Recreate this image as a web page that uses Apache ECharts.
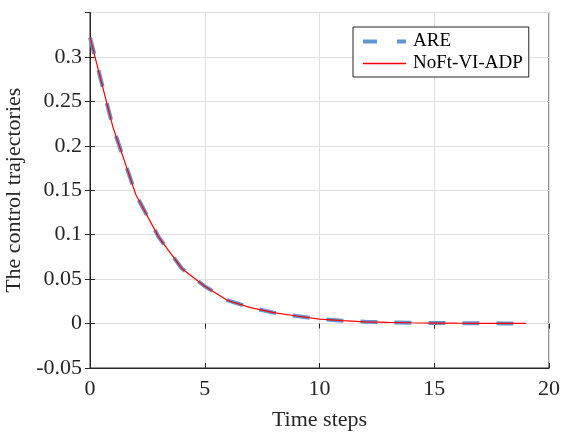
<!DOCTYPE html>
<html>
<head>
<meta charset="utf-8">
<script src="https://cdn.jsdelivr.net/npm/echarts@6/dist/echarts.min.js"></script>
<style>
  html, body { margin: 0; padding: 0; background: #fff; }
  #chart { width: 561px; height: 434px; }
</style>
</head>
<body>
<div id="chart"></div>
<script>
  // Valeurs
  const steps = [0, 1, 2, 3, 4, 5, 6, 7, 8, 9, 10, 11, 12, 13, 14, 15, 16, 17, 18, 19];
  const areValues = [0.322, 0.221, 0.145, 0.097, 0.062, 0.042, 0.026, 0.018, 0.0123, 0.0085,
    0.005, 0.0033, 0.002, 0.0013, 0.0009, 0.0006, 0.0004, 0.0003, 0.0002, 0.0001];
  const adpValues = [0.322, 0.221, 0.145, 0.097, 0.062, 0.042, 0.026, 0.018, 0.0123, 0.0085,
    0.005, 0.0033, 0.002, 0.0013, 0.0009, 0.0006, 0.0004, 0.0003, 0.0002, 0.0001];
  const seriesNames = ['ARE', 'NoFt-VI-ADP'];

  const font = 'Liberation Serif, Times New Roman, serif';
  const ink = '#262626';

  const chart = echarts.init(document.getElementById('chart'));

  const tickOnly = {
    axisLine: { show: false },
    axisTick: { show: true, inside: true, length: 5, lineStyle: { color: ink } },
    axisLabel: { show: false },
    splitLine: { show: false }
  };

  const option = {
    animation: false,
    grid: {
      left: 90, right: 12, top: 12.5, bottom: 66,
      outerBoundsMode: 'none', containLabel: false,
      show: true, borderColor: ink, borderWidth: 1, backgroundColor: 'transparent'
    },
    legend: {
      orient: 'vertical',
      left: 353, top: 27,
      padding: [5, 6, 4, 8],
      itemGap: 3,
      itemWidth: 43,
      itemHeight: 16,
      itemStyle: { opacity: 0 },
      data: [
        { name: seriesNames[0], lineStyle: { color: '#6296d0', width: 4, type: [14, 20] } },
        { name: seriesNames[1], lineStyle: { color: '#ff0000', width: 1.5, type: 'solid' } }
      ],
      backgroundColor: '#fff',
      borderColor: ink,
      borderWidth: 1,
      borderRadius: 0,
      textStyle: { fontFamily: font, fontSize: 19, color: '#000', padding: [0, 0, 0, 2] }
    },
    xAxis: [{
      type: 'value', min: 0, max: 20, interval: 5,
      name: 'Time steps', nameLocation: 'middle', nameGap: 41,
      nameTextStyle: { fontFamily: font, fontSize: 22, color: ink },
      axisLine: { show: true, onZero: false, lineStyle: { color: ink } },
      axisTick: { inside: true, length: 5, lineStyle: { color: ink } },
      axisLabel: { fontFamily: font, fontSize: 22, color: ink, margin: 10 },
      splitLine: { show: true, lineStyle: { color: '#e0e0e0', width: 1 } }
    }, Object.assign({ type: 'value', position: 'top', min: 0, max: 20, interval: 5 }, tickOnly)],
    yAxis: [{
      type: 'value', min: -0.05, max: 0.35, interval: 0.05,
      name: 'The control trajectories', nameLocation: 'middle', nameGap: 62,
      nameTextStyle: { fontFamily: font, fontSize: 22, color: ink },
      axisLine: { show: true, onZero: false, lineStyle: { color: ink } },
      axisTick: { inside: true, length: 5, lineStyle: { color: ink } },
      axisLabel: {
        fontFamily: font, fontSize: 22, color: ink, margin: 8, showMaxLabel: false,
        formatter: v => String(+v.toFixed(2))
      },
      splitLine: { show: true, lineStyle: { color: '#e0e0e0', width: 1 } }
    }, Object.assign({ type: 'value', position: 'right', min: -0.05, max: 0.35, interval: 0.05 }, tickOnly)],
    series: [
      {
        name: seriesNames[0], type: 'line', symbol: 'none',
        data: steps.map((s, i) => [s, areValues[i]]),
        lineStyle: { color: '#6296d0', width: 4, type: [17, 17], cap: 'butt' },
        itemStyle: { color: '#6296d0' }
      },
      {
        name: seriesNames[1], type: 'line', symbol: 'none',
        data: steps.map((s, i) => [s, adpValues[i]]),
        lineStyle: { color: '#ff0000', width: 1.2 },
        itemStyle: { color: '#ff0000' }
      }
    ]
  };

  chart.setOption(option);
</script>
</body>
</html>
